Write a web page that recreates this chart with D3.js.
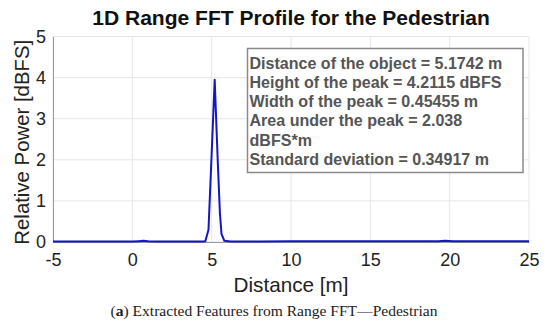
<!DOCTYPE html>
<html lang="en">
<head>
    <meta charset="UTF-8">
    <title>1D Range FFT Profile for the Pedestrian</title>
    <script src="https://cdnjs.cloudflare.com/ajax/libs/d3/7.8.5/d3.min.js"></script>
    <style>
        body { margin: 0; background: white; }
        svg { display: block; }
        .grid line { stroke: #e6e6e6; stroke-width: 1px; }
        .tick text { font-family: Arial, "Liberation Sans", sans-serif; font-size: 18px; fill: #222; }
    </style>
</head>
<body>
    <svg width="550" height="327"></svg>

    <script>
        // range profile (distance in m, relative power in dBFS)
        const distance = [-5, -3, -1, 0, 0.4, 0.7, 1.0, 1.5, 3, 4.4, 4.6, 4.8, 5.0, 5.19, 5.38, 5.52, 5.62, 5.8, 6.2, 8, 10, 12, 15, 17, 19.3, 19.7, 20.2, 22, 25];
        const power    = [0.01, 0.01, 0.01, 0.01, 0.02, 0.03, 0.02, 0.01, 0.01, 0.01, 0.02, 0.30, 2.15, 3.95, 2.0, 0.70, 0.20, 0.03, 0.01, 0.01, 0.02, 0.02, 0.02, 0.02, 0.02, 0.03, 0.02, 0.02, 0.02];
        const xTicks = [-5, 0, 5, 10, 15, 20, 25];
        const yTicks = [0, 1, 2, 3, 4, 5];
        const infoLines = [
            "Distance of the object = 5.1742 m",
            "Height of the peak = 4.2115 dBFS",
            "Width of the peak = 0.45455 m",
            "Area under the peak = 2.038",
            "dBFS*m",
            "Standard deviation = 0.34917 m"
        ];

        const svg = d3.select("svg");
        const mLeft = 53, mRight = 529, mTop = 36.5, mBottom = 242;

        const x = d3.scaleLinear().domain([-5, 25]).range([mLeft, mRight]);
        const y = d3.scaleLinear().domain([0, 5]).range([mBottom, mTop]);

        // shrink/grow a font so the text spans a given width
        function fitWidth(sel, width) {
            const size = +sel.attr("font-size");
            const len = sel.node().getComputedTextLength();
            sel.attr("font-size", size * width / len);
        }

        // grid
        const grid = svg.append("g").attr("class", "grid");
        grid.selectAll(".gx").data(xTicks).enter().append("line")
            .attr("x1", d => x(d)).attr("x2", d => x(d))
            .attr("y1", mTop).attr("y2", mBottom);
        grid.selectAll(".gy").data(yTicks).enter().append("line")
            .attr("x1", mLeft).attr("x2", mRight)
            .attr("y1", d => y(d)).attr("y2", d => y(d));

        // axes (plain hyphen for negatives, like the original)
        const xAxis = svg.append("g")
            .attr("transform", `translate(0,${mBottom})`)
            .call(d3.axisBottom(x).tickValues(xTicks).tickSize(0).tickPadding(11).tickFormat(d => String(d)));
        xAxis.select(".domain").attr("stroke", "#999");

        const yAxis = svg.append("g")
            .attr("transform", `translate(${mLeft},0)`)
            .call(d3.axisLeft(y).tickValues(yTicks).tickSize(0).tickPadding(7).tickFormat(d => String(d)));
        yAxis.select(".domain").attr("stroke", "#999");

        // line
        const line = d3.line().x((d, i) => x(distance[i])).y(d => y(d));
        svg.append("path")
            .datum(power)
            .attr("fill", "none")
            .attr("stroke", "#1515c8")
            .attr("stroke-width", 2)
            .attr("stroke-linejoin", "round")
            .attr("d", line);

        // info box
        const box = svg.append("g");
        box.append("rect")
            .attr("x", 247.5).attr("y", 48.5)
            .attr("width", 275.5).attr("height", 124)
            .attr("fill", "white").attr("stroke", "#8a8a8a").attr("stroke-width", 1.5);
        const info = box.selectAll("text").data(infoLines).enter().append("text")
            .attr("x", 249.5)
            .attr("y", (d, i) => 68.5 + i * 19.3)
            .attr("font-family", "Arial, 'Liberation Sans', sans-serif")
            .attr("font-weight", "bold")
            .attr("font-size", 15)
            .attr("fill", "#555")
            .text(d => d);
        const firstLen = info.node().getComputedTextLength();
        info.attr("font-size", 15 * 253 / firstLen);

        // title and labels
        svg.append("text")
            .attr("x", (mLeft + mRight) / 2).attr("y", 25)
            .attr("text-anchor", "middle")
            .attr("font-family", "Arial, 'Liberation Sans', sans-serif")
            .attr("font-weight", "bold").attr("font-size", 21)
            .attr("fill", "#111")
            .text("1D Range FFT Profile for the Pedestrian")
            .call(fitWidth, 398);

        svg.append("text")
            .attr("x", (mLeft + mRight) / 2).attr("y", 292)
            .attr("text-anchor", "middle")
            .attr("font-family", "Arial, 'Liberation Sans', sans-serif")
            .attr("font-size", 21).attr("fill", "#222")
            .text("Distance [m]")
            .call(fitWidth, 115);

        svg.append("text")
            .attr("transform", `translate(29,${(mTop + mBottom) / 2 + 3}) rotate(-90)`)
            .attr("text-anchor", "middle")
            .attr("font-family", "Arial, 'Liberation Sans', sans-serif")
            .attr("font-size", 20).attr("fill", "#222")
            .text("Relative Power [dBFS]")
            .call(fitWidth, 205);

        const cap = svg.append("text")
            .attr("x", 274).attr("y", 316)
            .attr("text-anchor", "middle")
            .attr("font-family", "'Liberation Serif', 'DejaVu Serif', serif")
            .attr("font-size", 15.5).attr("fill", "#222");
        cap.append("tspan").text("(");
        cap.append("tspan").attr("font-weight", "bold").text("a");
        cap.append("tspan").text(") Extracted Features from Range FFT\u2014Pedestrian");
        fitWidth(cap, 327);
    </script>
</body>
</html>
